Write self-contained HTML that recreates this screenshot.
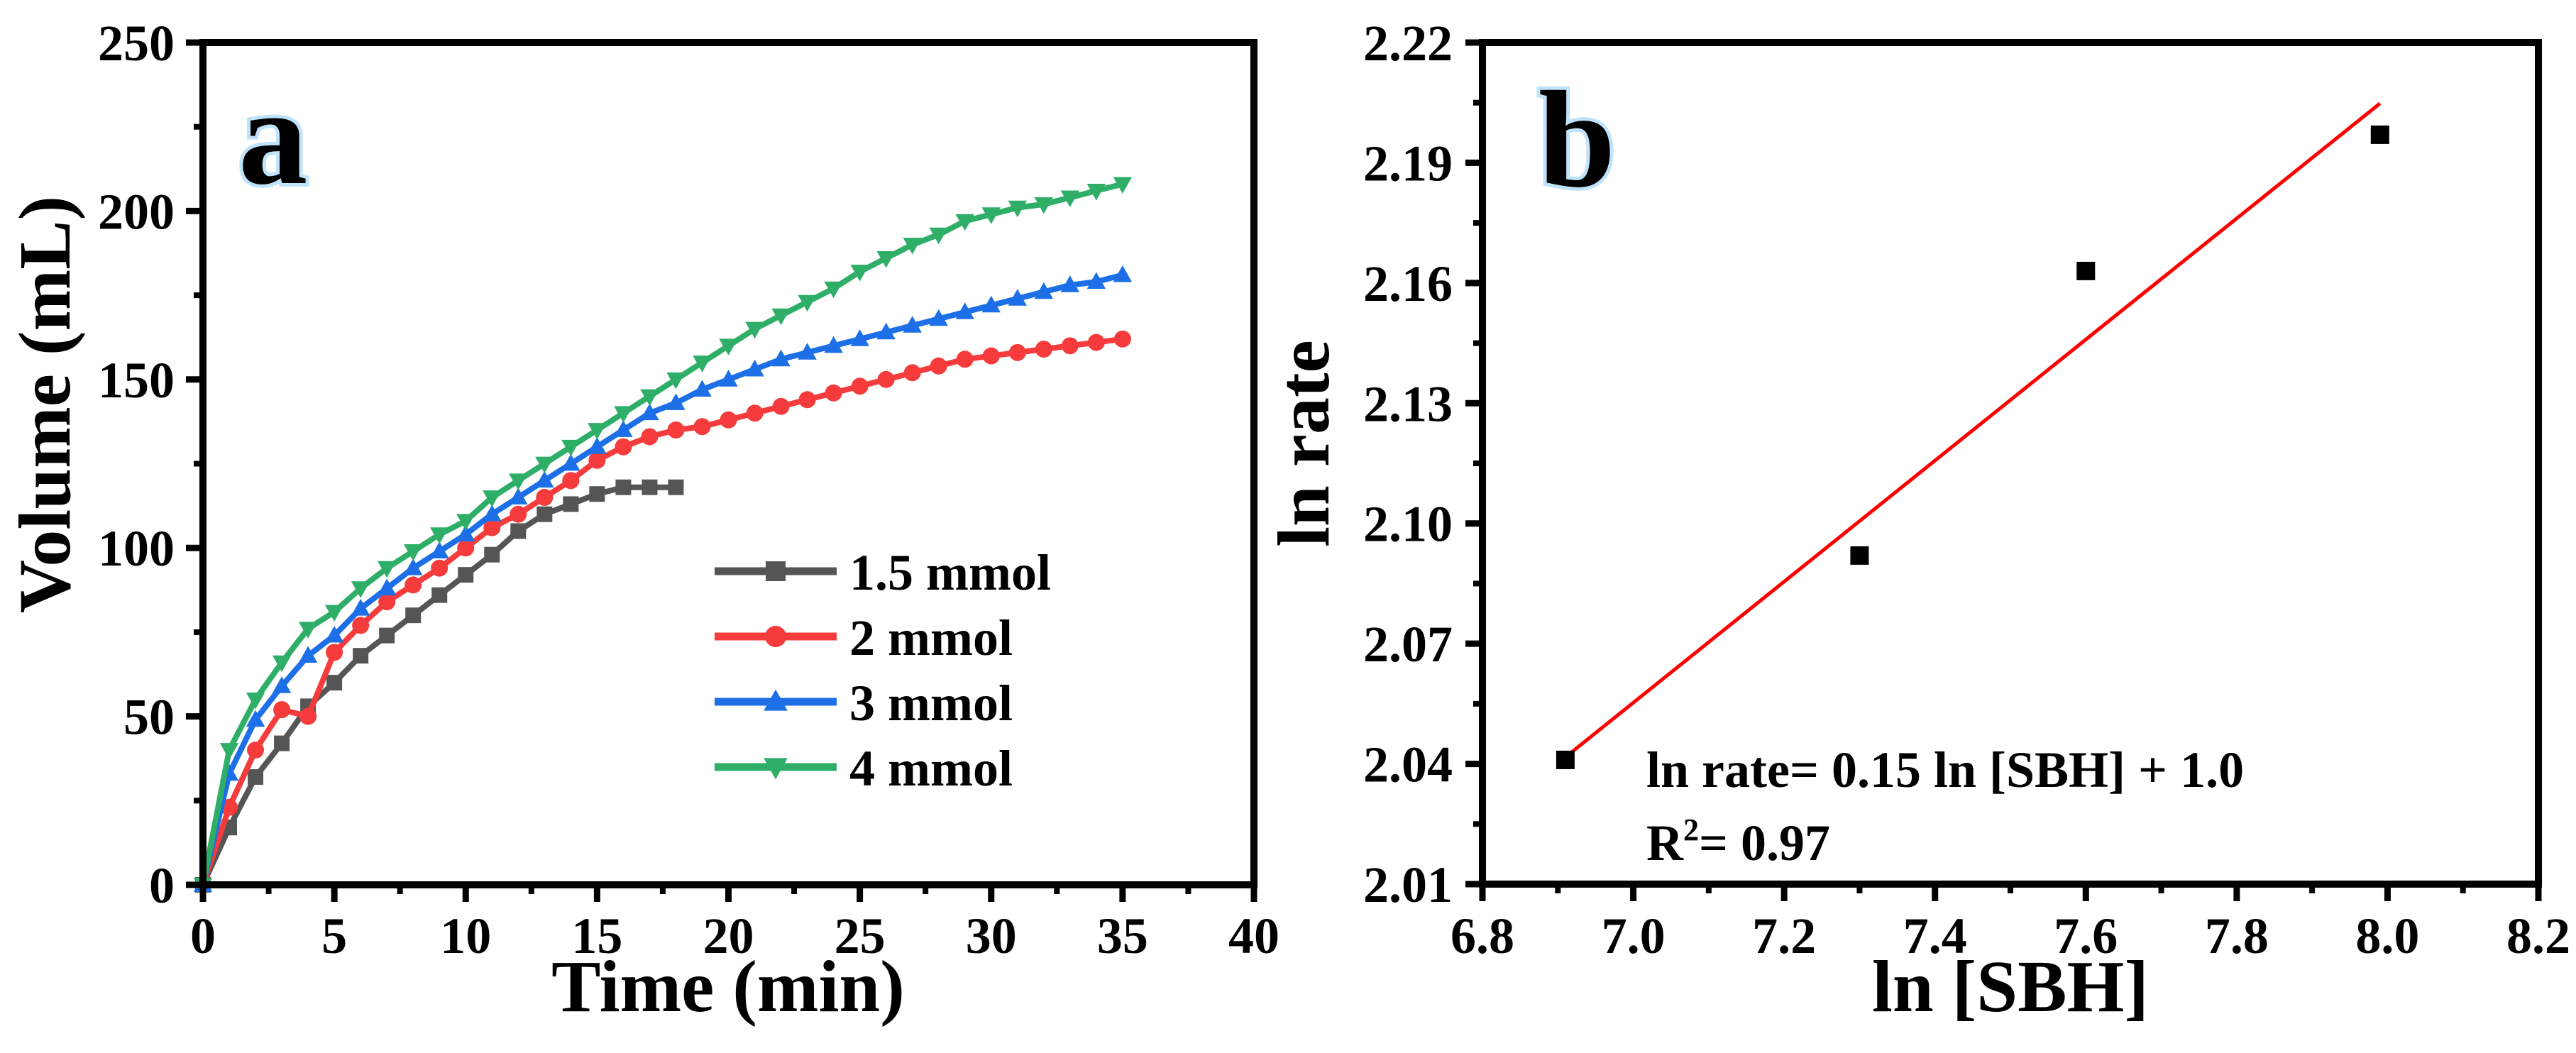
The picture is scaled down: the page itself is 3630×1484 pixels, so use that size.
<!DOCTYPE html>
<html><head><meta charset="utf-8">
<style>
html,body{margin:0;padding:0;background:#fff;}
svg{display:block;}
text{font-family:"Liberation Serif",serif;font-weight:bold;fill:#000;}
</style></head>
<body>
<svg id="fig" width="3630" height="1484" viewBox="0 0 3630 1484" xmlns="http://www.w3.org/2000/svg">
<g id="pa"></g>
<g id="pb"></g>
</svg>
<script>
// ---- Panel a data ----
const timeA = [0,1,2,3,4,5,6,7,8,9,10,11,12,13,14,15,16,17,18,19,20,21,22,23,24,25,26,27,28,29,30,31,32,33,34,35];
const time15 = [0,1,2,3,4,5,6,7,8,9,10,11,12,13,14,15,16,17,18];
const vol15 = [0,17,32,42,53,60,68,74,80,86,92,98,105,110,113,116,118,118,118];
const vol2 = [0,23,40,52,50,69,77,84,89,94,100,106,110,115,120,126,130,133,135,136,138,140,142,144,146,148,150,152,154,156,157,158,159,160,161,162];
const vol3 = [0,33,49,59,68,74,82,88,94,99,104,110,115,120,125,130,135,140,143,147,150,153,156,158,160,162,164,166,168,170,172,174,176,178,179,181];
const vol4 = [0,40,55,66,76,81,88,94,99,104,108,115,120,125,130,135,140,145,150,155,160,165,169,173,177,182,186,190,193,197,199,201,202,204,206,208];
const xTicksA = [0,5,10,15,20,25,30,35,40];
const yTicksA = [0,50,100,150,200,250];
const legendLabels = ["1.5 mmol","2 mmol","3 mmol","4 mmol"];
// ---- Panel b data ----
const lnSBH = [6.91,7.30,7.60,7.99];
const lnRate = [2.041,2.092,2.163,2.197];
const xTicksB = ["6.8","7.0","7.2","7.4","7.6","7.8","8.0","8.2"];
const yTicksB = ["2.01","2.04","2.07","2.10","2.13","2.16","2.19","2.22"];

const NS="http://www.w3.org/2000/svg";
function mk(parent,tag,attrs){const e=document.createElementNS(NS,tag);for(const k in attrs)e.setAttribute(k,attrs[k]);parent.appendChild(e);return e;}

// ===== Panel A =====
const pa=document.getElementById('pa');
const AX={l:286,r:1767,t:60,b:1247,x0:0,x1:40,y0:0,y1:250};
const xa=v=>AX.l+(v-AX.x0)/(AX.x1-AX.x0)*(AX.r-AX.l);
const ya=v=>AX.b-(v-AX.y0)/(AX.y1-AX.y0)*(AX.b-AX.t);

function marker(g,type,x,y,color,s){
  let m;
  if(type==='sq'){m=mk(g,'rect',{x:x-s/2,y:y-s/2,width:s,height:s,fill:color});}
  else if(type==='ci'){m=mk(g,'circle',{cx:x,cy:y,r:s/2+1,fill:color});}
  else if(type==='up'){m=mk(g,'polygon',{points:`${x},${y-s*0.62} ${x-s*0.6},${y+s*0.45} ${x+s*0.6},${y+s*0.45}`,fill:color});}
  else {m=mk(g,'polygon',{points:`${x},${y+s*0.62} ${x-s*0.6},${y-s*0.45} ${x+s*0.6},${y-s*0.45}`,fill:color});}
  
  
  return m;
}
const seriesA=[
  {xs:time15,ys:vol15,c:'#555555',m:'sq',n:'series-1-5-mmol'},
  {xs:timeA,ys:vol2,c:'#f53b3b',m:'ci',n:'series-2-mmol'},
  {xs:timeA,ys:vol3,c:'#1c6fe6',m:'up',n:'series-3-mmol'},
  {xs:timeA,ys:vol4,c:'#2fae68',m:'dn',n:'series-4-mmol'}
];
seriesA.forEach(s=>{
  const g=mk(pa,'g',{});
  
  
  const pts=s.xs.map((t,i)=>xa(t)+','+ya(s.ys[i])).join(' ');
  const pl=mk(g,'polyline',{points:pts,fill:'none',stroke:s.c,'stroke-width':8,'stroke-linejoin':'round'});
  
  
  s.xs.forEach((t,i)=>marker(g,s.m,xa(t),ya(s.ys[i]),s.c,22));
});
function frame(p,A){
  const f=mk(p,'rect',{x:A.l,y:A.t,width:A.r-A.l,height:A.b-A.t,fill:'none',stroke:'#000','stroke-width':10});
  
  
}
frame(pa,AX);
xTicksA.forEach((v,i)=>{
  const x=xa(v);
  mk(pa,'line',{x1:x,y1:AX.b,x2:x,y2:AX.b+24,stroke:'#000','stroke-width':9});
  if(i<xTicksA.length-1){const xm=xa(v+2.5);mk(pa,'line',{x1:xm,y1:AX.b,x2:xm,y2:AX.b+13,stroke:'#000','stroke-width':8});}
  const t=mk(pa,'text',{x:x,y:1343,'font-size':72,'text-anchor':'middle'});t.textContent=v;
  
  
});
yTicksA.forEach((v,i)=>{
  const y=ya(v);
  mk(pa,'line',{x1:AX.l-24,y1:y,x2:AX.l,y2:y,stroke:'#000','stroke-width':9});
  if(i<yTicksA.length-1){const ym=ya(v+25);mk(pa,'line',{x1:AX.l-13,y1:ym,x2:AX.l,y2:ym,stroke:'#000','stroke-width':8});}
  const t=mk(pa,'text',{x:246,y:y+25,'font-size':72,'text-anchor':'end'});t.textContent=v;
  
  
});
{
  const t=mk(pa,'text',{x:1026,y:1425,'font-size':104,'text-anchor':'middle'});t.textContent='Time (min)';
  
  
  const t2=mk(pa,'text',{x:0,y:0,'font-size':104,'text-anchor':'middle',transform:'translate(98,570) rotate(-90)'});t2.textContent='Volume (mL)';
  
  
  const la=mk(pa,'text',{x:336,y:258,'font-size':195,stroke:'#bfe3fb','stroke-width':10,'paint-order':'stroke'});la.textContent='a';
  
  
}
const lg=mk(pa,'g',{});


legendLabels.forEach((lab,i)=>{
  const y=805+i*92, s=seriesA[i];
  const e=mk(lg,'g',{});
  
  
  mk(e,'line',{x1:1007,y1:y,x2:1179,y2:y,stroke:s.c,'stroke-width':11});
  marker(e,s.m,1093,y,s.c,28);
  const t=mk(e,'text',{x:1197,y:y+26,'font-size':72});t.textContent=lab;
});

// ===== Panel B =====
const pb=document.getElementById('pb');
const BX={l:2089,r:3577,t:60,b:1246,x0:6.8,x1:8.2,y0:2.01,y1:2.22};
const xb=v=>BX.l+(v-BX.x0)/(BX.x1-BX.x0)*(BX.r-BX.l);
const yb=v=>BX.b-(v-BX.y0)/(BX.y1-BX.y0)*(BX.b-BX.t);
const n=lnSBH.length, mx=lnSBH.reduce((a,b)=>a+b)/n, my=lnRate.reduce((a,b)=>a+b)/n;
let sxy=0,sxx=0;lnSBH.forEach((x,i)=>{sxy+=(x-mx)*(lnRate[i]-my);sxx+=(x-mx)*(x-mx);});
const slope=sxy/sxx, icpt=my-slope*mx;
const xs0=lnSBH[0], xs1=lnSBH[n-1];
const fl=mk(pb,'line',{x1:xb(xs0),y1:yb(icpt+slope*xs0),x2:xb(xs1),y2:yb(icpt+slope*xs1),stroke:'#ff0000','stroke-width':5});


lnSBH.forEach((x,i)=>{
  const r=mk(pb,'rect',{x:xb(x)-13,y:yb(lnRate[i])-13,width:26,height:26,fill:'#000'});
  
  
});
frame(pb,BX);
xTicksB.forEach((lab,i)=>{
  const v=parseFloat(lab), x=xb(v);
  mk(pb,'line',{x1:x,y1:BX.b,x2:x,y2:BX.b+24,stroke:'#000','stroke-width':9});
  if(i<xTicksB.length-1){const xm=xb(v+0.1);mk(pb,'line',{x1:xm,y1:BX.b,x2:xm,y2:BX.b+13,stroke:'#000','stroke-width':8});}
  const t=mk(pb,'text',{x:x,y:1343,'font-size':72,'text-anchor':'middle'});t.textContent=lab;
  
  
});
yTicksB.forEach((lab,i)=>{
  const v=parseFloat(lab), y=yb(v);
  mk(pb,'line',{x1:BX.l-24,y1:y,x2:BX.l,y2:y,stroke:'#000','stroke-width':9});
  if(i<yTicksB.length-1){const ym=yb(v+0.015);mk(pb,'line',{x1:BX.l-13,y1:ym,x2:BX.l,y2:ym,stroke:'#000','stroke-width':8});}
  const t=mk(pb,'text',{x:2047,y:y+25,'font-size':72,'text-anchor':'end'});t.textContent=lab;
  
  
});
{
  const t=mk(pb,'text',{x:2833,y:1425,'font-size':104,'text-anchor':'middle'});t.textContent='ln [SBH]';
  
  
  const t2=mk(pb,'text',{x:0,y:0,'font-size':104,'text-anchor':'middle',transform:'translate(1872,625) rotate(-90)'});t2.textContent='ln rate';
  
  
  const lb=mk(pb,'text',{x:2168,y:262,'font-size':195,stroke:'#bfe3fb','stroke-width':10,'paint-order':'stroke'});lb.textContent='b';
  
  
  const e1=mk(pb,'text',{x:2320,y:1109,'font-size':72});e1.textContent='ln rate= 0.15 ln [SBH] + 1.0';
  
  
  const e2=mk(pb,'text',{x:2320,y:1212,'font-size':72});
  e2.innerHTML='R<tspan dy="-28" font-size="44">2</tspan><tspan dy="28">= 0.97</tspan>';
  
  
}
</script>
</body></html>
